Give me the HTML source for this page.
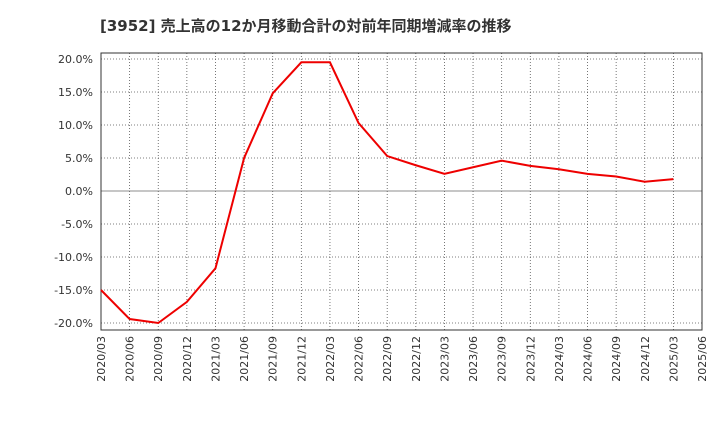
<!DOCTYPE html>
<html><head><meta charset="utf-8"><style>
body{margin:0;background:#fff;}
svg text{font-family:"DejaVu Sans","Noto Sans CJK JP",sans-serif;}
</style></head><body>
<svg width="720" height="440" xmlns="http://www.w3.org/2000/svg">
<text x="100" y="31" font-size="15" font-weight="bold" fill="#333">[3952]  売上高の12か月移動合計の対前年同期増減率の推移</text>
<g id="grid"></g><g id="axes"></g><g id="series"></g>
</svg>
<script>
const categories=["2020/03","2020/06","2020/09","2020/12","2021/03","2021/06","2021/09","2021/12","2022/03","2022/06","2022/09","2022/12","2023/03","2023/06","2023/09","2023/12","2024/03","2024/06","2024/09","2024/12","2025/03","2025/06"];
const values=[-15.0,-19.4,-20.0,-16.8,-11.7,5.0,14.8,19.5,19.5,10.3,5.3,3.9,2.6,3.6,4.6,3.8,3.3,2.6,2.2,1.4,1.8];
const yTicks=[20,15,10,5,0,-5,-10,-15,-20];
const yTickLabels=["20.0%","15.0%","10.0%","5.0%","0.0%","-5.0%","-10.0%","-15.0%","-20.0%"];
const NS="http://www.w3.org/2000/svg";
const L=101,R=702,T=53,B=330;
const x=i=>L+(R-L)*i/(categories.length-1);
const y=v=>191-v*6.6;
function mk(tag,attrs,parent){const e=document.createElementNS(NS,tag);for(const k in attrs)e.setAttribute(k,attrs[k]);parent.appendChild(e);return e;}
const grid=document.getElementById('grid'),axes=document.getElementById('axes'),series=document.getElementById('series');
categories.forEach((c,i)=>{
  const g=mk('line',{x1:x(i),x2:x(i),y1:T,y2:B,stroke:'#555','stroke-width':0.8,'stroke-dasharray':'1,2'},grid);
  
  
  const t=mk('text',{x:0,y:0,'font-size':11,fill:'#333','text-anchor':'end',transform:`translate(${x(i)+4},${B+6}) rotate(-90)`},axes);
  t.textContent=c;
  
  
});
yTicks.forEach((v,i)=>{
  const g=mk('line',{x1:L,x2:R,y1:y(v),y2:y(v),stroke:v===0?'#666':'#555','stroke-width':0.8,'stroke-dasharray':v===0?'':'1,2'},grid);
  
  
  const t=mk('text',{x:L-8,y:y(v)+4,'font-size':11,fill:'#333','text-anchor':'end'},axes);
  t.textContent=yTickLabels[i];
  
  
});
const frame=mk('rect',{x:L,y:T,width:R-L,height:B-T,fill:'none',stroke:'#333','stroke-width':1},axes);


const line=mk('polyline',{points:values.map((v,i)=>x(i)+','+y(v)).join(' '),fill:'none',stroke:'#e00','stroke-width':2},series);


</script>
</body></html>
